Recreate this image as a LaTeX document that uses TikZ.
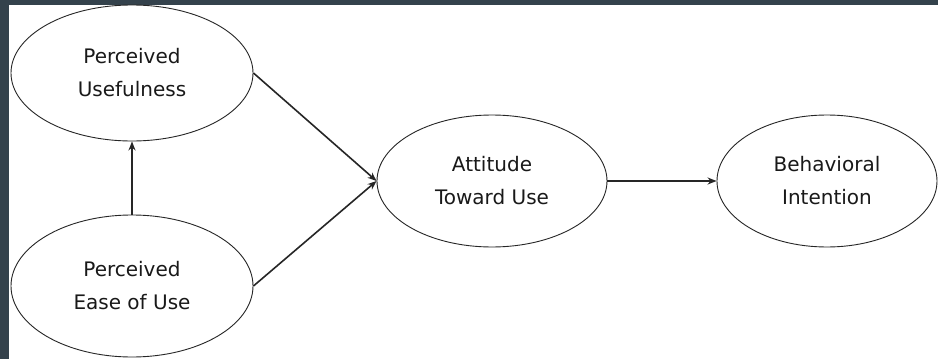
\documentclass[tikz,border=0pt]{standalone}
\usepackage{fontspec}
\setmainfont{DejaVu Sans}
\usetikzlibrary{shapes.geometric,arrows.meta}
\definecolor{framegray}{RGB}{52,66,76}
\begin{document}
\begin{tikzpicture}[
		x=1pt, y=-1pt,
		construct/.style={
			draw=black!85, ellipse,
			align=center,
			line width=0.9pt,
			inner sep=0pt,
			text=black!90,
			font=\fontsize{20}{33}\selectfont
		},
		wide/.style={minimum width=242pt, minimum height=136pt},
		link/.style={draw=black!85, line width=1.6pt, -{Stealth[length=9pt,width=7pt]}}
		]
		
		% frame and page
		\fill[framegray] (0,0) rectangle (938,359);
		\fill[white] (9,5) rectangle (938,359);
		\useasboundingbox (0,0) rectangle (938,359);
		
		\node[construct, wide] (pu) at (132,73) {Perceived\\Usefulness};
		\node[construct, wide, minimum height=142pt] (peou) at (132,286) {Perceived\\Ease of Use};
		\node[construct, minimum width=230pt, minimum height=132pt] (atu) at (492,181) {Attitude\\Toward Use};
		\node[construct, minimum width=220pt, minimum height=132pt] (bi) at (827,181) {Behavioral\\Intention};
		
		\draw[link] (peou.north) -- (pu.south);
		\draw[link] (pu.east) -- (atu.west);
		\draw[link] (peou.east) -- (atu.west);
		\draw[link] (atu.east) -- (bi.west);
	\end{tikzpicture}
\end{document}
